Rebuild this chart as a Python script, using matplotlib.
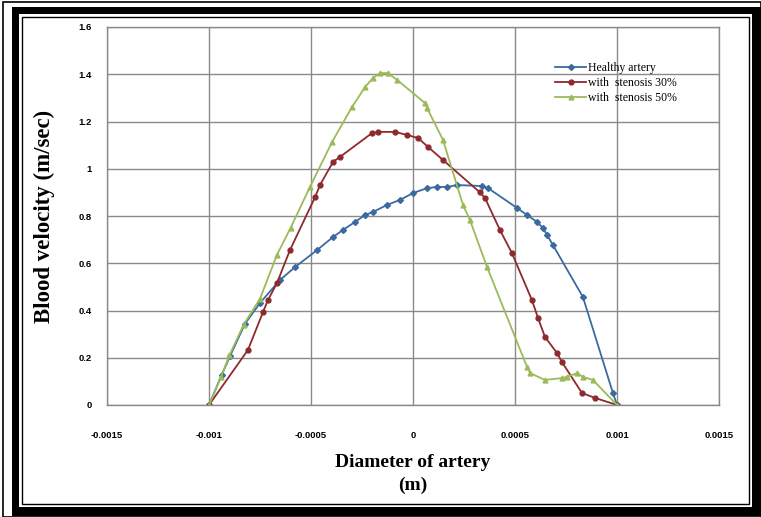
import matplotlib.pyplot as plt
from matplotlib.patches import Rectangle

# velocity profiles across the artery diameter
x_healthy = [-0.001, -0.000938, -0.000897, -0.000824, -0.00075, -0.000652, -0.000578,
             -0.00047, -0.000392, -0.000343, -0.000284, -0.000235, -0.000196, -0.000127,
             -0.000064, 0.0, 0.000069, 0.000118, 0.000167, 0.000216, 0.000338, 0.000368,
             0.00051, 0.000559, 0.000608, 0.000637, 0.000657, 0.000686, 0.000833,
             0.00098, 0.001]
v_healthy = [0.0, 0.127, 0.207, 0.343, 0.432, 0.529, 0.584,
             0.656, 0.711, 0.741, 0.775, 0.804, 0.817, 0.847,
             0.868, 0.897, 0.918, 0.923, 0.923, 0.931, 0.927, 0.918,
             0.834, 0.804, 0.775, 0.749, 0.72, 0.677, 0.457,
             0.051, 0.0]

x_30 = [-0.001, -0.000809, -0.000735, -0.000711, -0.000667, -0.000603, -0.00048,
        -0.000456, -0.000392, -0.000358, -0.000201, -0.000172, -0.000088, -0.000029,
        0.000025, 0.000074, 0.000147, 0.000328, 0.000353, 0.000426, 0.000485,
        0.000583, 0.000613, 0.000647, 0.000706, 0.00073, 0.000828, 0.000892, 0.001]
v_30 = [0.0, 0.233, 0.394, 0.444, 0.516, 0.656, 0.88,
        0.931, 1.029, 1.05, 1.151, 1.156, 1.156, 1.143,
        1.13, 1.092, 1.037, 0.9, 0.876, 0.741, 0.643,
        0.444, 0.368, 0.288, 0.22, 0.182, 0.051, 0.03, 0.0]

x_50 = [-0.001, -0.00094, -0.0009, -0.00083, -0.00075, -0.000667, -0.0006, -0.000505,
        -0.000397, -0.0003, -0.000235, -0.000196, -0.000162, -0.000123, -0.000078,
        0.000059, 0.000069, 0.000147, 0.000245, 0.000279, 0.000363, 0.000559,
        0.000574, 0.000647, 0.00073, 0.000755, 0.000804, 0.000833, 0.000882, 0.001]
v_50 = [0.0, 0.12, 0.21, 0.34, 0.45, 0.635, 0.75, 0.923,
        1.113, 1.26, 1.346, 1.384, 1.405, 1.405, 1.376,
        1.278, 1.257, 1.122, 0.847, 0.783, 0.584, 0.161,
        0.135, 0.106, 0.114, 0.119, 0.135, 0.119, 0.106, 0.0]

x_ticks = [-0.0015, -0.001, -0.0005, 0, 0.0005, 0.001, 0.0015]
x_tick_labels = ['-0.0015', '-0.001', '-0.0005', '0', '0.0005', '0.001', '0.0015']
y_ticks = [0, 0.2, 0.4, 0.6, 0.8, 1.0, 1.2, 1.4, 1.6]
y_tick_labels = ['0', '0.2', '0.4', '0.6', '0.8', '1', '1.2', '1.4', '1.6']

W, H = 761, 517
fig = plt.figure(figsize=(W / 100, H / 100), dpi=100)


def px_rect(x0, y0, x1, y1, **kw):
    # rectangle given in pixels from the top-left corner
    return Rectangle((x0 / W, 1 - y1 / H), (x1 - x0) / W, (y1 - y0) / H,
                     transform=fig.transFigure, **kw)


# picture frame
fig.patches.append(px_rect(3, 2, 761, 517, facecolor='none', edgecolor='black', lw=1.2, zorder=-3))
fig.patches.append(px_rect(12, 7, 761, 515.5, facecolor='black', edgecolor='none', zorder=-2))
fig.patches.append(px_rect(19, 14, 751.5, 506.5, facecolor='white', edgecolor='none', zorder=-1))
fig.patches.append(px_rect(22, 16.5, 749, 503.5, facecolor='none', edgecolor='black', lw=1.0, zorder=-0.5))

ax = fig.add_axes([107 / W, 1 - 405 / H, 612 / W, 378 / H])

ax.plot(x_healthy, v_healthy, color='#3B6AA0', marker='D', markersize=3, lw=1.3,
        label='Healthy artery')
ax.plot(x_30, v_30, color='#8E2A2E', marker='o', markersize=3.5, lw=1.3,
        label='with  stenosis 30%')
ax.plot(x_50, v_50, color='#9BBB59', marker='^', markersize=3.5, lw=1.3,
        label='with  stenosis 50%')

ax.set_xlim(-0.0015, 0.0015)
ax.set_ylim(0, 1.6)
ax.set_xticks(x_ticks)
ax.set_xticklabels(x_tick_labels)
ax.set_yticks(y_ticks)
ax.set_yticklabels(y_tick_labels)
ax.tick_params(length=0, labelsize=6.8)
ax.tick_params(axis='x', pad=19)
ax.tick_params(axis='y', pad=11)
for lab in ax.get_xticklabels() + ax.get_yticklabels():
    lab.set_fontweight('bold')
    lab.set_family('Liberation Sans')

ax.grid(True, color='#8a8a8a', lw=1.0)
ax.set_axisbelow(True)
for s in ax.spines.values():
    s.set_color('#8a8a8a')
    s.set_linewidth(1.0)

ax.set_ylabel('Blood velocity (m/sec)', fontsize=16.5, fontweight='bold', family='Liberation Serif')
ax.yaxis.set_label_coords(-0.085, 0.5)
ax.set_xlabel('Diameter of artery\n(m)', fontsize=14, fontweight='bold', family='Liberation Serif',
              linespacing=1.45)
ax.xaxis.set_label_coords(0.5, -0.13)

ax.legend(loc='upper left', bbox_to_anchor=(0.725, 0.92), frameon=False,
          prop={'family': 'Liberation Serif', 'size': 8.5}, handlelength=2.6,
          handletextpad=0.2, labelspacing=0.25, borderaxespad=0)

plt.savefig('out.png', dpi=100)
